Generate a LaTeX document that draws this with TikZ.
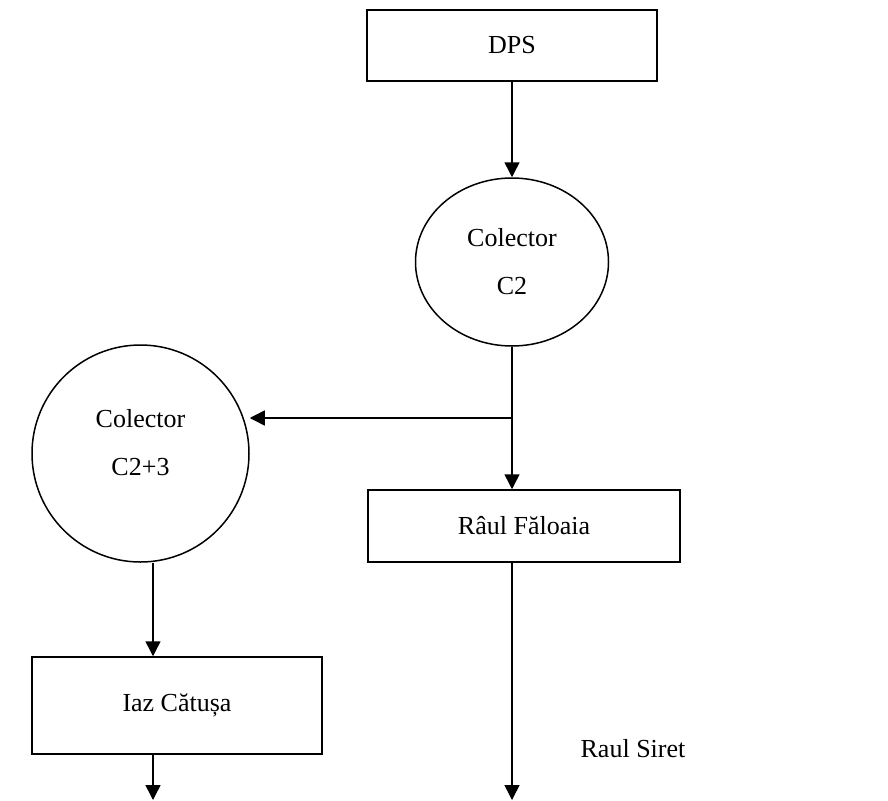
\documentclass[tikz,border=0pt]{standalone}
\usepackage{fontspec}
\setmainfont{Liberation Serif}
\usepackage{tikz}
\usetikzlibrary{shapes.geometric,positioning,calc,arrows.meta}

\begin{document}
\begin{tikzpicture}[x=1pt,y=-1pt,
    every node/.style={font=\fontsize{26}{48}\selectfont, inner sep=0pt},
    box/.style={draw, line width=1.5pt, rectangle},
    pool/.style={draw, line width=1.5pt, ellipse, align=center},
    flow/.style={line width=1.5pt, -{Triangle[length=15pt,width=15pt]}}]
    \useasboundingbox (0,0) rectangle (888,800);

    % Boxes
    \node[box, minimum width=290pt, minimum height=71pt] (dps) at (512,45.5) {DPS};
    \node[box, minimum width=312pt, minimum height=72pt] (faloaia) at (524,526) {Râul Făloaia};
    \node[box, minimum width=290pt, minimum height=97pt] (iaz) at (177,705.5) {Iaz Cătușa};

    % Collectors
    \node[pool, minimum width=193pt, minimum height=168pt] (c2) at (512,262) {Colector\\C2};
    \node[pool, minimum width=217pt, minimum height=217pt, text depth=22pt] (c23) at (140.5,453.5) {Colector\\C2+3};

    % Outlet
    \node (siret) at (633,749) {Raul Siret};

    % Flow
    \coordinate (split) at (512,418);
    \coordinate (outSiret) at (512,800);
    \coordinate (outIaz) at (153,800);
    \draw[flow] (dps.south) -- (dps.south |- c2.north);
    \draw[line width=1.5pt] (c2.south) -- (split);
    \draw[flow] (split) -- (c23.east |- split);
    \draw[flow] (split) -- (split |- faloaia.north);
    \draw[flow] (faloaia.south -| outSiret) -- (outSiret);
    \draw[flow] (outIaz |- c23.south) -- (outIaz |- iaz.north);
    \draw[flow] (iaz.south -| outIaz) -- (outIaz);
\end{tikzpicture}
\end{document}
